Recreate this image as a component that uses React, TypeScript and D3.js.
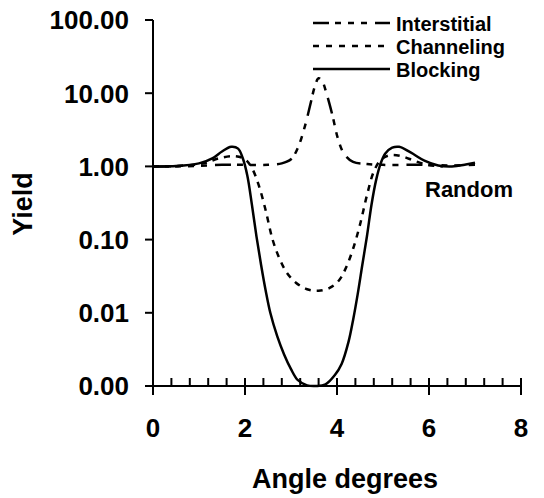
import React, { useEffect, useRef } from 'react'
import * as d3 from 'd3'

// blocking (solid)
const blockingAngle = [0, 0.5, 1.0, 1.3, 1.5, 1.7, 1.85, 1.95, 2.05, 2.15, 2.25, 2.35, 2.45, 2.55, 2.7, 2.85, 3.0, 3.15, 3.35, 3.55, 3.75, 3.95, 4.1, 4.25, 4.35, 4.45, 4.55, 4.65, 4.75, 4.85, 4.95, 5.05, 5.2, 5.35, 5.6, 5.9, 6.2, 6.5, 6.8, 7.0]
const blockingYield = [1.0, 1.01, 1.1, 1.3, 1.6, 1.85, 1.75, 1.3, 0.75, 0.3, 0.11, 0.045, 0.02, 0.01, 0.0048, 0.0027, 0.0017, 0.0012, 0.00102, 0.001, 0.00105, 0.0014, 0.002, 0.004, 0.008, 0.018, 0.045, 0.11, 0.3, 0.65, 1.1, 1.5, 1.8, 1.85, 1.55, 1.2, 1.03, 1.0, 1.06, 1.12]

// channeling (short dash)
const channelingAngle = [0, 0.6, 1.1, 1.45, 1.8, 2.0, 2.15, 2.3, 2.45, 2.6, 2.75, 2.9, 3.1, 3.35, 3.6, 3.85, 4.05, 4.2, 4.35, 4.5, 4.65, 4.8, 4.95, 5.15, 5.4, 5.7, 6.0, 6.3]
const channelingYield = [1.0, 1.02, 1.1, 1.3, 1.38, 1.25, 0.95, 0.55, 0.25, 0.1, 0.055, 0.036, 0.026, 0.021, 0.02, 0.022, 0.028, 0.042, 0.075, 0.16, 0.4, 0.85, 1.22, 1.42, 1.38, 1.18, 1.04, 1.0]

// interstitial (long dash dot dot)
const interstitialAngle = [0, 0.5, 1.0, 1.5, 2.0, 2.5, 2.8, 3.0, 3.15, 3.3, 3.42, 3.52, 3.6, 3.68, 3.78, 3.9, 4.02, 4.15, 4.35, 4.65, 5.0, 5.5, 6.0, 6.5, 7.0]
const interstitialYield = [1.0, 1.0, 1.02, 1.05, 1.05, 1.05, 1.1, 1.25, 1.8, 3.5, 7, 12.5, 16, 14.5, 9.5, 5, 2.4, 1.5, 1.15, 1.08, 1.05, 1.05, 1.05, 1.03, 1.05]

const xTicks = [0, 2, 4, 6, 8]
const yTicks = [0.001, 0.01, 0.1, 1, 10, 100]
const legendNames = ['Interstitial', 'Channeling', 'Blocking']

const FONT = '"Liberation Sans", Arial, sans-serif'

export default function App() {
    const ref = useRef<SVGSVGElement>(null)

    useEffect(() => {
        const svg = d3.select(ref.current)
        svg.selectAll('*').remove()

        const xScale = d3.scaleLinear().domain([0, 8]).range([153, 521])
        const yScale = d3.scaleLog().domain([0.001, 100]).range([386, 20])

        const line = d3.line<[number, number]>()
            .x(d => xScale(d[0]))
            .y(d => yScale(d[1]))
            .curve(d3.curveCatmullRom.alpha(0.5))

        const series = [
            { angle: interstitialAngle, values: interstitialYield, dash: '16 6 6 7 6 7 6 8' },
            { angle: channelingAngle, values: channelingYield, dash: '6 6' },
            { angle: blockingAngle, values: blockingYield, dash: null },
        ]

        series.forEach(s => {
            const pts = s.angle.map((a, i) => [a, s.values[i]] as [number, number])
            svg.append('path')
                .datum(pts)
                .attr('fill', 'none')
                .attr('stroke', '#000')
                .attr('stroke-width', 2.5)
                .attr('stroke-dasharray', s.dash)
                .attr('d', line)
        })

        // y axis
        svg.append('line')
            .attr('x1', xScale(0)).attr('x2', xScale(0))
            .attr('y1', yScale(100)).attr('y2', yScale(0.001))
            .attr('stroke', '#000').attr('stroke-width', 2)
        svg.selectAll('.ytick')
            .data(yTicks)
            .enter().append('line')
            .attr('x1', xScale(0) - 8).attr('x2', xScale(0))
            .attr('y1', d => yScale(d)).attr('y2', d => yScale(d))
            .attr('stroke', '#000').attr('stroke-width', 2)
        svg.selectAll('.ylabel')
            .data(yTicks)
            .enter().append('text')
            .attr('x', 129)
            .attr('y', d => yScale(d))
            .attr('dy', '0.36em')
            .attr('text-anchor', 'end')
            .style('font-family', FONT).style('font-weight', 'bold').style('font-size', '26px')
            .text(d => d3.format('.2f')(d))

        // x axis
        svg.append('line')
            .attr('x1', xScale(0)).attr('x2', xScale(8))
            .attr('y1', yScale(0.001)).attr('y2', yScale(0.001))
            .attr('stroke', '#000').attr('stroke-width', 2)
        const minor = d3.range(0, 8.001, 0.4).filter(v => Math.abs(v / 2 - Math.round(v / 2)) > 0.01)
        svg.selectAll('.xminor')
            .data(minor)
            .enter().append('line')
            .attr('x1', d => xScale(d)).attr('x2', d => xScale(d))
            .attr('y1', yScale(0.001) - 8).attr('y2', yScale(0.001))
            .attr('stroke', '#000').attr('stroke-width', 2)
        svg.selectAll('.xmajor')
            .data(xTicks)
            .enter().append('line')
            .attr('x1', d => xScale(d)).attr('x2', d => xScale(d))
            .attr('y1', yScale(0.001) - 8).attr('y2', yScale(0.001) + 9)
            .attr('stroke', '#000').attr('stroke-width', 2)
        svg.selectAll('.xlabel')
            .data(xTicks)
            .enter().append('text')
            .attr('x', d => xScale(d))
            .attr('y', 437)
            .attr('text-anchor', 'middle')
            .style('font-family', FONT).style('font-weight', 'bold').style('font-size', '26px')
            .text(d => d)

        // axis titles
        svg.append('text')
            .attr('x', 345).attr('y', 488)
            .attr('text-anchor', 'middle')
            .style('font-family', FONT).style('font-weight', 'bold').style('font-size', '27px')
            .text('Angle degrees')
        svg.append('text')
            .attr('transform', 'translate(32,204) rotate(-90)')
            .attr('text-anchor', 'middle')
            .style('font-family', FONT).style('font-weight', 'bold').style('font-size', '27px')
            .text('Yield')

        // Random label
        svg.append('text')
            .attr('x', 425).attr('y', 197)
            .style('font-family', FONT).style('font-weight', 'bold').style('font-size', '22px')
            .text('Random')

        // legend
        const legendDash = ['16 6 6 7 6 7 6 8', '6 7', null]
        legendNames.forEach((name, i) => {
            const ly = 23 + i * 23
            svg.append('line')
                .attr('x1', 313).attr('x2', 390)
                .attr('y1', ly).attr('y2', ly)
                .attr('stroke', '#000').attr('stroke-width', 2.5)
                .attr('stroke-dasharray', legendDash[i])
            svg.append('text')
                .attr('x', 396).attr('y', ly + 8)
                .style('font-family', FONT).style('font-weight', 'bold').style('font-size', '20px')
                .text(name)
        })
    }, [])

    return (
        <svg ref={ref} width={544} height={498}
            style={{ position: 'absolute', left: 0, top: 0, background: '#fff' }} />
    )
}
